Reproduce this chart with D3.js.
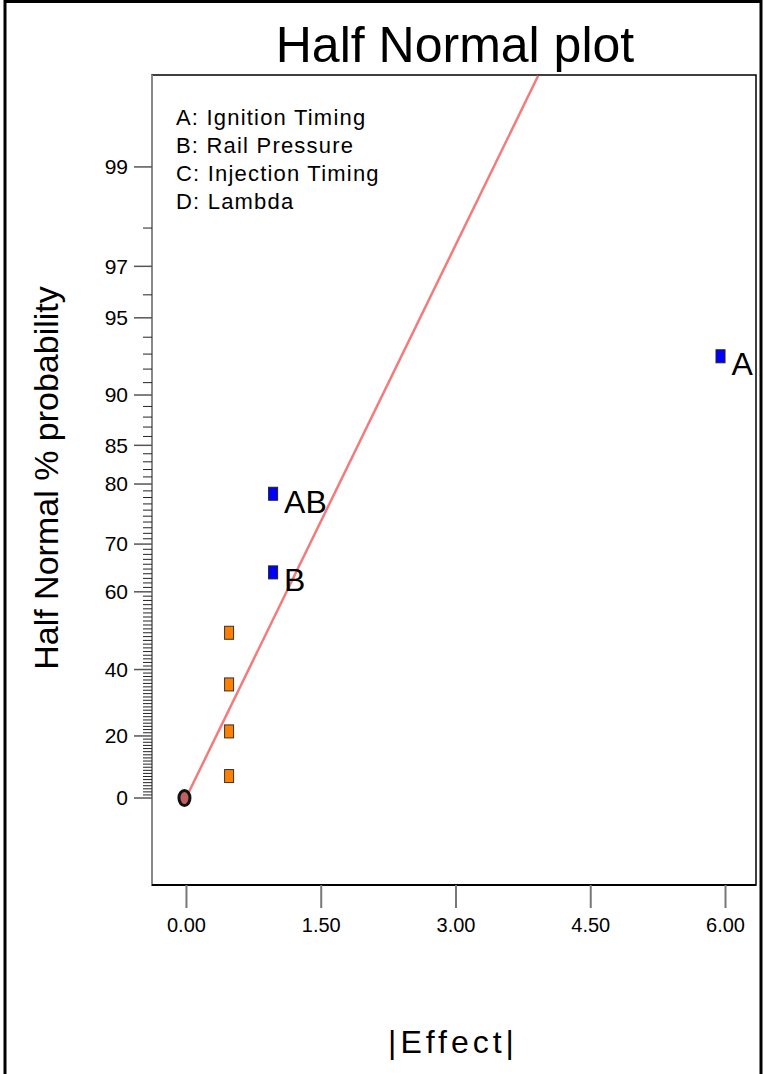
<!DOCTYPE html>
<html>
<head>
<meta charset="utf-8">
<script src="https://cdn.jsdelivr.net/npm/d3@7"></script>
<style>
  html, body { margin: 0; padding: 0; background: #fff; }
  svg { display: block; }
  text { font-family: Arial, "Liberation Sans", sans-serif; fill: #000; }
</style>
</head>
<body>
<svg id="chart" width="764" height="1074"></svg>
<script>
// ---------- data ----------
const effects = [0.48, 0.48, 0.48, 0.48, 0.97, 0.97, 5.95];
const probs = [7.14, 21.43, 35.71, 50.0, 64.29, 78.57, 92.86];
const pointLabels = ["", "", "", "", "B", "AB", "A"];
const pointGroups = ["error", "error", "error", "error", "term", "term", "term"];
const zeroEffect = [0];
const zeroProb = [0];
const lineEffects = [0, 3.92];
const lineProbs = [0, 99.68];
const xTicks = [0, 1.5, 3, 4.5, 6];
const yMajorTicks = [0, 20, 40, 60, 70, 80, 85, 90, 95, 97, 99];
const legendLines = ["A: Ignition Timing", "B: Rail Pressure", "C: Injection Timing", "D: Lambda"];

// ---------- helpers ----------
function invNorm(p) {
  const a = [-3.969683028665376e+01, 2.209460984245205e+02, -2.759285104469687e+02, 1.383577518672690e+02, -3.066479806614716e+01, 2.506628277459239e+00];
  const b = [-5.447609879822406e+01, 1.615858368580409e+02, -1.556989798598866e+02, 6.680131188771972e+01, -1.328068155288572e+01];
  const c = [-7.784894002430293e-03, -3.223964580411365e-01, -2.400758277161838e+00, -2.549671854356549e+00, 4.374664141464968e+00, 2.938163982698783e+00];
  const d = [7.784695709041462e-03, 3.224671290700398e-01, 2.445134137142996e+00, 3.754408661907416e+00];
  const pl = 0.02425, ph = 1 - pl;
  let q, r;
  if (p < pl) { q = Math.sqrt(-2 * Math.log(p)); return (((((c[0]*q+c[1])*q+c[2])*q+c[3])*q+c[4])*q+c[5]) / ((((d[0]*q+d[1])*q+d[2])*q+d[3])*q+1); }
  if (p <= ph) { q = p - 0.5; r = q*q; return (((((a[0]*r+a[1])*r+a[2])*r+a[3])*r+a[4])*r+a[5])*q / (((((b[0]*r+b[1])*r+b[2])*r+b[3])*r+b[4])*r+1); }
  q = Math.sqrt(-2 * Math.log(1 - p)); return -(((((c[0]*q+c[1])*q+c[2])*q+c[3])*q+c[4])*q+c[5]) / ((((d[0]*q+d[1])*q+d[2])*q+d[3])*q+1);
}
const halfNormalZ = pct => pct <= 0 ? 0 : invNorm(0.5 + pct / 200);

// ---------- layout ----------
const svg = d3.select("#chart");
const plot = { left: 152, right: 756, top: 75, bottom: 885 };

const x = d3.scaleLinear().domain([-0.378, 6.345]).range([plot.left, plot.right]);
const yz = d3.scaleLinear().domain([-0.355, 2.951]).range([plot.bottom, plot.top]);
const y = pct => yz(halfNormalZ(pct));

// outer frame
svg.append("path")
  .attr("d", "M5,1074 V1.5 H761 V1074")
  .attr("fill", "none").attr("stroke", "#000").attr("stroke-width", 3);

// title
svg.append("text").attr("x", 455).attr("y", 62).attr("text-anchor", "middle")
  .style("font-size", "50px").text("Half Normal plot");

// clip
svg.append("clipPath").attr("id", "clip").append("rect")
  .attr("x", plot.left).attr("y", plot.top)
  .attr("width", plot.right - plot.left).attr("height", plot.bottom - plot.top);

// plot frame
svg.append("rect")
  .attr("x", plot.left).attr("y", plot.top)
  .attr("width", plot.right - plot.left).attr("height", plot.bottom - plot.top)
  .attr("fill", "none").attr("stroke", "#000").attr("stroke-width", 1.5);
svg.append("line")
  .attr("x1", plot.left).attr("x2", plot.left).attr("y1", plot.top).attr("y2", plot.bottom)
  .attr("stroke", "#888").attr("stroke-width", 2);
svg.append("line")
  .attr("x1", plot.left).attr("x2", plot.right).attr("y1", plot.bottom).attr("y2", plot.bottom)
  .attr("stroke", "#000").attr("stroke-width", 2);

// x axis
const xAxis = d3.axisBottom(x).tickValues(xTicks).tickFormat(d3.format(".2f")).tickSize(23).tickPadding(10);
const gx = svg.append("g").attr("transform", `translate(0,${plot.bottom})`).call(xAxis);
gx.select(".domain").remove();
gx.selectAll(".tick line").attr("stroke", "#777").attr("stroke-width", 2);
gx.selectAll(".tick text").style("font-size", "20px").style("font-family", "Arial, 'Liberation Sans', sans-serif");

// y axis (half-normal probability scale)
const yMinor = d3.range(1, 99).filter(v => !yMajorTicks.includes(v));
const gy = svg.append("g");
gy.selectAll("line.minor").data(yMinor).join("line")
  .attr("class", "minor")
  .attr("x1", plot.left - 9).attr("x2", plot.left)
  .attr("y1", d => y(d)).attr("y2", d => y(d))
  .attr("stroke", "#222").attr("stroke-width", 1);
gy.selectAll("line.major").data(yMajorTicks).join("line")
  .attr("class", "major")
  .attr("x1", plot.left - 18).attr("x2", plot.left)
  .attr("y1", d => y(d)).attr("y2", d => y(d))
  .attr("stroke", "#555").attr("stroke-width", 1.5);
gy.selectAll("text").data(yMajorTicks).join("text")
  .attr("x", 128).attr("y", d => y(d)).attr("dy", "0.35em")
  .attr("text-anchor", "end").style("font-size", "21px")
  .text(d => d);

// axis titles
svg.append("text")
  .attr("transform", "translate(58,478) rotate(-90)")
  .attr("text-anchor", "middle").style("font-size", "34px")
  .text("Half Normal % probability");
svg.append("text")
  .attr("x", 453).attr("y", 1053).attr("text-anchor", "middle")
  .style("font-size", "32px").style("letter-spacing", "4px")
  .text("|Effect|");

// legend
svg.append("g").selectAll("text").data(legendLines).join("text")
  .attr("x", 176).attr("y", (d, i) => 125 + i * 28)
  .style("font-size", "22px").style("letter-spacing", "1.2px")
  .text(d => d);

// fit line
const lineData = lineEffects.map((e, i) => ({ e, p: lineProbs[i] }));
svg.append("path")
  .datum(lineData)
  .attr("clip-path", "url(#clip)")
  .attr("d", d3.line().x(d => x(d.e)).y(d => y(d.p)))
  .attr("fill", "none").attr("stroke", "#f47b7b").attr("stroke-width", 2.5);

// points
const pts = effects.map((e, i) => ({ e, p: probs[i], label: pointLabels[i], group: pointGroups[i] }));
const colors = { error: "#ff8000", term: "#0000ff" };
svg.append("g").selectAll("rect").data(pts).join("rect")
  .attr("x", d => x(d.e) - 4.5).attr("y", d => y(d.p) - 6.5)
  .attr("width", 9).attr("height", 13)
  .attr("fill", d => colors[d.group])
  .attr("stroke", d => d.group === "error" ? "#333" : "#222").attr("stroke-width", 1);

svg.append("g").selectAll("text").data(pts.filter(d => d.label)).join("text")
  .attr("x", d => x(d.e) + 11).attr("y", d => y(d.p) + 19)
  .style("font-size", "32px")
  .text(d => d.label);

// zero effects marker
svg.append("g").selectAll("ellipse").data(zeroEffect.map((e, i) => ({ e, p: zeroProb[i] }))).join("ellipse")
  .attr("cx", d => x(d.e) - 1.5).attr("cy", d => y(d.p))
  .attr("rx", 5.5).attr("ry", 7.5)
  .attr("fill", "#c06060").attr("stroke", "#111").attr("stroke-width", 3);
</script>
</body>
</html>
